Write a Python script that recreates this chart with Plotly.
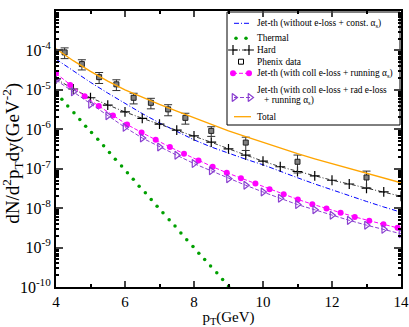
import plotly.graph_objects as go

# Phenix data
phenix_pt = [4.25, 4.75, 5.25, 5.75, 6.25, 6.75, 7.25, 7.75, 8.5, 9.5, 11.0, 13.0]
phenix_y = [8.9e-5, 4.5e-5, 2.1e-5, 1.38e-5, 6.3e-6, 4.7e-6, 3.2e-6, 1.95e-6, 9.1e-7, 4.6e-7, 1.5e-7, 6.0e-8]
phenix_err = [2.7e-5, 1.3e-5, 6.5e-6, 4.2e-6, 1.9e-6, 1.4e-6, 1.0e-6, 6.0e-7, 2.5e-7, 1.7e-7, 7.2e-8, 2.7e-8]

# common 0.5 GeV grid
pt_half = [4.0, 4.5, 5.0, 5.5, 6.0, 6.5, 7.0, 7.5, 8.0, 8.5, 9.0, 9.5, 10.0, 10.5,
           11.0, 11.5, 12.0, 12.5, 13.0, 13.5, 14.0]

jet_const = [6.0e-5, 3.0e-5, 1.55e-5, 8.3e-6, 4.5e-6, 2.5e-6, 1.45e-6, 8.7e-7, 5.4e-7, 3.55e-7,
             2.45e-7, 1.74e-7, 1.26e-7, 8.5e-8, 5.9e-8, 4.1e-8, 2.9e-8, 2.0e-8, 1.48e-8, 1.07e-8, 7.9e-9]

hard = [1.9e-5, 1.05e-5, 6.3e-6, 4.1e-6, 2.75e-6, 1.9e-6, 1.35e-6, 9.5e-7, 6.8e-7, 4.7e-7,
        3.2e-7, 2.2e-7, 1.55e-7, 1.12e-7, 8.5e-8, 6.6e-8, 5.1e-8, 4.1e-8, 3.2e-8, 2.6e-8, 2.0e-8]

jet_coll_rad = [1.78e-5, 8.9e-6, 4.3e-6, 2.2e-6, 1.12e-6, 6.0e-7, 3.55e-7, 2.2e-7, 1.35e-7, 8.9e-8,
                5.6e-8, 3.8e-8, 2.57e-8, 1.78e-8, 1.23e-8, 9.1e-9, 6.6e-9, 4.9e-9, 3.7e-9, 2.9e-9, 2.24e-9]

total = [1.1e-4, 5.5e-5, 2.95e-5, 1.66e-5, 1.0e-5, 6.5e-6, 4.3e-6, 2.9e-6, 1.95e-6, 1.32e-6,
         9.1e-7, 6.5e-7, 4.6e-7, 3.3e-7, 2.4e-7, 1.78e-7, 1.35e-7, 1.0e-7, 7.6e-8, 5.75e-8, 4.4e-8]

# coll e-loss curve
pt_coll = [4.0, 4.41, 4.83, 5.24, 5.65, 6.06, 6.48, 6.89, 7.30, 7.71, 8.13, 8.54, 8.95, 9.36,
           9.78, 10.19, 10.60, 11.01, 11.43, 11.84, 12.25, 12.66, 13.08, 13.49, 13.9]
jet_coll = [2.63e-5, 1.32e-5, 6.9e-6, 3.9e-6, 2.24e-6, 1.32e-6, 8.3e-7, 5.4e-7, 3.55e-7, 2.4e-7,
            1.62e-7, 1.12e-7, 7.9e-8, 5.75e-8, 4.2e-8, 3.0e-8, 2.24e-8, 1.66e-8, 1.26e-8, 9.8e-9,
            7.6e-9, 6.0e-9, 4.8e-9, 3.9e-9, 3.16e-9]

# thermal
pt_th = [4.0, 4.17, 4.34, 4.52, 4.69, 4.86, 5.03, 5.21, 5.38, 5.55, 5.72, 5.90, 6.07, 6.24, 6.41,
         6.59, 6.76, 6.93, 7.10, 7.28, 7.45, 7.62, 7.79, 7.97, 8.14, 8.31, 8.48, 8.66, 8.83, 9.0]
thermal = [8.5e-6, 5.75e-6, 3.9e-6, 2.63e-6, 1.78e-6, 1.2e-6, 8.3e-7, 5.6e-7, 3.8e-7, 2.57e-7,
           1.74e-7, 1.17e-7, 7.9e-8, 5.4e-8, 3.6e-8, 2.45e-8, 1.66e-8, 1.12e-8, 7.6e-9, 5.1e-9,
           3.5e-9, 2.34e-9, 1.58e-9, 1.07e-9, 7.2e-10, 5.0e-10, 3.4e-10, 2.3e-10, 1.55e-10, 1.05e-10]

y_ticks = [1e-10, 1e-9, 1e-8, 1e-7, 1e-6, 1e-5, 1e-4, 1e-3]
y_ticktext = ["10<sup>-10</sup>", "10<sup>-9</sup>", "10<sup>-8</sup>", "10<sup>-7</sup>",
              "10<sup>-6</sup>", "10<sup>-5</sup>", "10<sup>-4</sup>", "10<sup>-3</sup>"]

legend_labels = ["Jet-th (without e-loss + const. α<sub>s</sub>)", "Thermal", "Hard", "Phenix data",
                 "Jet-th (with coll e-loss + running α<sub>s</sub>)",
                 "Jet-th (with coll e-loss + rad e-loss", "+ running α<sub>s</sub>)", "Total"]

serif = "Times New Roman, Liberation Serif, serif"
BLUE, GREEN, PINK, PURPLE, ORANGE = "#0000ff", "#00a000", "#ff00ff", "#8a3fd0", "#ffa500"
blue_line = dict(color=BLUE, width=1, dash="5px,2px,1px,2px")
hard_line = dict(color="black", width=0.8, dash="4px,2px,1px,2px")
hard_mk = dict(symbol="cross-thin", size=7, color="black", line=dict(color="black", width=1.2))
pink_line = dict(color=PINK, width=1, dash="4px,2px")
pink_mk = dict(symbol="circle", size=6, color=PINK)
purple_line = dict(color=PURPLE, width=1, dash="4px,2px")
purple_mk = dict(symbol="triangle-right-open", size=7, color=PURPLE, line=dict(color=PURPLE, width=1.2))
green_mk = dict(color=GREEN, size=3.5)
sq_mk = dict(symbol="square", size=5, color="#808080", line=dict(color="#202020", width=1))

fig = go.Figure()

fig.add_trace(go.Scatter(x=pt_half, y=jet_const, mode="lines", line=blue_line))
fig.add_trace(go.Scatter(x=pt_th, y=thermal, mode="markers", marker=green_mk))
fig.add_trace(go.Scatter(x=pt_half, y=hard, mode="lines+markers", line=hard_line, marker=hard_mk))
fig.add_trace(go.Scatter(x=phenix_pt, y=phenix_y, mode="markers", marker=sq_mk,
                         error_y=dict(type="data", array=phenix_err, color="#303030",
                                      thickness=1, width=4)))
fig.add_trace(go.Scatter(x=pt_coll, y=jet_coll, mode="lines+markers", line=pink_line, marker=pink_mk))
fig.add_trace(go.Scatter(x=pt_half, y=jet_coll_rad, mode="lines+markers", line=purple_line,
                         marker=purple_mk))
fig.add_trace(go.Scatter(x=pt_half, y=total, mode="lines", line=dict(color=ORANGE, width=1.3)))

# hand-made legend on an overlay axis measured in pixels
L = dict(xaxis="x2", yaxis="y2", hoverinfo="skip")
fig.add_trace(go.Scatter(x=[227, 400, 400, 227, 227], y=[12, 12, 125, 125, 12], mode="lines",
                         fill="toself", fillcolor="white", line=dict(color="black", width=1), **L))
rows = [23.3, 38.3, 50, 61.7, 73.3, 90, 100.5, 116.7]
fig.add_trace(go.Scatter(x=[234, 250], y=[rows[0]] * 2, mode="lines", line=blue_line, **L))
fig.add_trace(go.Scatter(x=[236, 246], y=[rows[1]] * 2, mode="markers", marker=green_mk, **L))
fig.add_trace(go.Scatter(x=[233, 249], y=[rows[2]] * 2, mode="lines+markers", line=hard_line,
                         marker=hard_mk, **L))
fig.add_trace(go.Scatter(x=[241], y=[rows[3]], mode="markers",
                         marker=dict(symbol="square-open", size=5, color="black",
                                     line=dict(color="black", width=1)), **L))
fig.add_trace(go.Scatter(x=[233, 249], y=[rows[4]] * 2, mode="lines+markers", line=pink_line,
                         marker=pink_mk, **L))
fig.add_trace(go.Scatter(x=[234, 250], y=[97.5] * 2, mode="lines+markers", line=purple_line,
                         marker=purple_mk, **L))
fig.add_trace(go.Scatter(x=[234, 251], y=[rows[7]] * 2, mode="lines",
                         line=dict(color=ORANGE, width=1.3), **L))
for i, txt in enumerate(legend_labels):
    fig.add_annotation(x=262 if i == 6 else 255, y=rows[i], xref="x2", yref="y2", text=txt,
                       showarrow=False, xanchor="left", yanchor="middle",
                       font=dict(family=serif, size=9.4, color="black"))

# y axis title placed by hand (paper coords, left of the plot area)
fig.add_annotation(x=-0.125, y=0.486, xref="paper", yref="paper", textangle=-90, showarrow=False,
                   text="dN/d<sup>2</sup>p<sub>T</sub>dy(GeV<sup>-2</sup>)",
                   xanchor="center", yanchor="middle",
                   font=dict(family=serif, size=19, color="black"))

fig.update_xaxes(range=[4, 14], dtick=2, ticks="inside", ticklen=6, tickwidth=1.5,
                 showline=True, linewidth=2, linecolor="black", mirror="allticks",
                 showgrid=False, zeroline=False, automargin=False,
                 minor=dict(dtick=1, ticks="inside", ticklen=3, tickcolor="black"),
                 tickfont=dict(family=serif, size=15, color="black"),
                 title=dict(text="p<sub>T</sub>(GeV)", font=dict(family=serif, size=15),
                            standoff=4))
fig.update_yaxes(type="log", range=[-10, -3], tickvals=y_ticks, ticktext=y_ticktext,
                 ticks="inside", ticklen=7, tickwidth=1.5,
                 showline=True, linewidth=2, linecolor="black", mirror="allticks",
                 showgrid=False, zeroline=False, automargin=False,
                 minor=dict(dtick="D1", ticks="inside", ticklen=3, tickcolor="black"),
                 tickfont=dict(family=serif, size=16, color="black"))

fig.update_layout(width=409, height=327, autosize=False, showlegend=False,
                  margin=dict(l=56, r=8, t=11, b=40),
                  plot_bgcolor="white", paper_bgcolor="white",
                  font=dict(family=serif, color="black"),
                  xaxis2=dict(overlaying="x", range=[56, 401], visible=False, fixedrange=True),
                  yaxis2=dict(overlaying="y", range=[287, 11], visible=False, fixedrange=True))

fig.write_html("out.html", config={"displayModeBar": False},
               post_script="document.body.style.margin='0';")
